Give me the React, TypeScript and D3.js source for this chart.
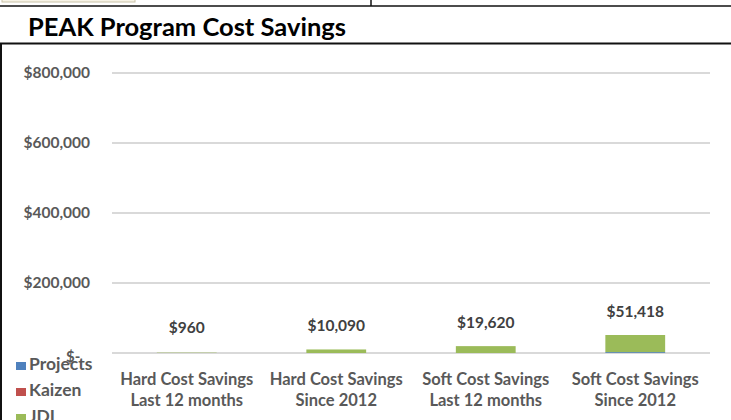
import React from "react";
import * as d3 from "d3";

const categories: string[][] = [
  ["Hard Cost Savings", "Last 12 months"],
  ["Hard Cost Savings", "Since 2012"],
  ["Soft Cost Savings", "Last 12 months"],
  ["Soft Cost Savings", "Since 2012"],
];
const seriesNames = ["Projects", "Kaizen", "JDI"];
const projects = [0, 0, 0, 2500];
const kaizen = [0, 0, 0, 0];
const jdi = [960, 10090, 19620, 48918];
const totals = ["$960", "$10,090", "$19,620", "$51,418"];
const yTicks = [0, 200000, 400000, 600000, 800000];
const colors = ["#4F81BD", "#C0504D", "#9BBB59"];

const FONT = "Lato, 'Open Sans', sans-serif";
const GRAY = "#595959";

export default function App() {
  const W = 731, H = 420;
  const y = d3.scaleLinear().domain([0, 800000]).range([353, 73]);
  const keys = categories.map((_, i) => String(i));
  const x = d3.scaleBand().domain(keys).range([112, 710]).paddingInner(0.6).paddingOuter(0.3);
  const rows = keys.map((k, i) => ({ key: k, Projects: projects[i], Kaizen: kaizen[i], JDI: jdi[i] }));
  const stacked = d3.stack<any>().keys(seriesNames)(rows);
  const fmt = (v: number) => "$" + d3.format(",")(v);

  return (
    <svg width={W} height={H} style={{ position: "absolute", left: 0, top: 0, background: "#fff" }} fontFamily={FONT}>
      {/* frame decorations */}
      <rect x={2} y={-2} width={133} height={4} fill="#F7F3E6" stroke="#C9C2A8" strokeWidth={1} />
      <line x1={0} x2={W} y1={6} y2={6} stroke="#111" strokeWidth={1.6} />
      <line x1={371} x2={371} y1={0} y2={6} stroke="#111" strokeWidth={1.5} />
      <line x1={0} x2={W} y1={43.5} y2={43.5} stroke="#111" strokeWidth={1.8} />
      <line x1={1} x2={1} y1={43} y2={H} stroke="#111" strokeWidth={2} />

      <text x={28} y={36} fontSize={25.5} fontWeight={700} fill="#000">PEAK Program Cost Savings</text>

      {/* gridlines and y labels */}
      {yTicks.map((t) => (
        <g key={t}>
          <line x1={112} x2={710} y1={y(t)} y2={y(t)} stroke="#D9D9D9" strokeWidth={2} />
          {t === 0 ? (
            <text x={66} y={362} fontSize={15} fontWeight={700} fill={GRAY}>$-</text>
          ) : (
            <text x={90} y={y(t) + 5} fontSize={15.5} fontWeight={700} fill={GRAY} textAnchor="end">{fmt(t)}</text>
          )}
        </g>
      ))}

      {/* bars */}
      {stacked.map((s, si) => (
        <g key={s.key} fill={colors[si]}>
          {s.map((d, i) => (
            <rect key={i} x={x(keys[i])!} width={x.bandwidth()} y={y(d[1])} height={Math.max(0, y(d[0]) - y(d[1]))} />
          ))}
        </g>
      ))}

      {/* totals */}
      {keys.map((k, i) => {
        const total = projects[i] + kaizen[i] + jdi[i];
        return (
          <text key={k} x={x(k)! + x.bandwidth() / 2} y={Math.min(y(total) - 18, 333)} fontSize={15.5} fontWeight={700} fill="#404040" textAnchor="middle">
            {totals[i]}
          </text>
        );
      })}

      {/* category labels */}
      {categories.map((c, i) => (
        <text key={i} x={x(keys[i])! + x.bandwidth() / 2} fontSize={16.5} fontWeight={700} fill={GRAY} textAnchor="middle">
          <tspan x={x(keys[i])! + x.bandwidth() / 2} y={385}>{c[0]}</tspan>
          <tspan x={x(keys[i])! + x.bandwidth() / 2} y={406}>{c[1]}</tspan>
        </text>
      ))}

      {/* legend */}
      {seriesNames.map((n, i) => (
        <g key={n} transform={`translate(16, ${370 + i * 26})`}>
          <rect x={0} y={-8} width={10} height={8} fill={colors[i]} />
          <text x={13} y={0} fontSize={17.5} fontWeight={700} fill={GRAY}>{n}</text>
        </g>
      ))}
    </svg>
  );
}
